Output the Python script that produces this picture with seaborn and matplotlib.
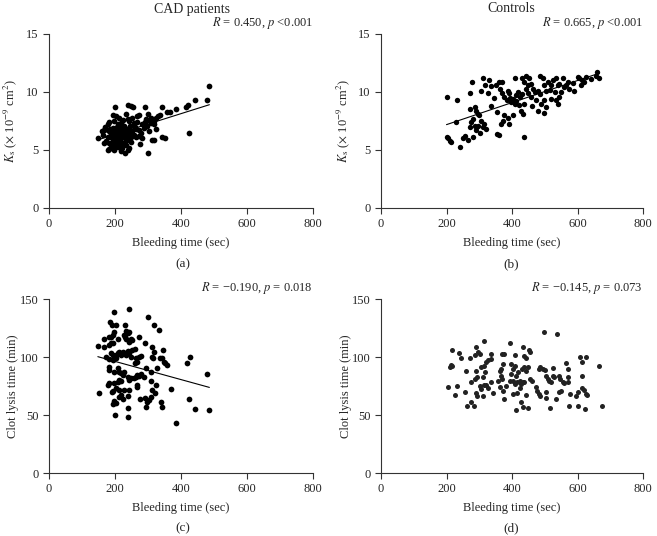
import numpy as np
import pandas as pd
import seaborn as sns
import matplotlib.pyplot as plt

# (a) CAD patients, bleeding time (sec) vs Ks
cad_bt_a = [486, 478, 441, 421, 416, 385, 368, 358, 343, 336, 331, 323, 318, 291, 255, 248, 238, 200,
            425, 299, 351, 343, 318, 313, 276, 148, 166, 168, 178, 183, 198, 208, 218, 230, 238, 243,
            193, 203, 213, 233, 238, 268, 273, 293, 303, 310,
            183, 198, 208, 218, 228, 243, 258, 268, 283, 298, 308, 318,
            173, 183, 193, 203, 213, 223, 233, 243, 253, 263, 273, 288, 303, 323,
            163, 178, 188, 193, 203, 213, 223, 233, 248, 258, 273, 283,
            173, 183, 193, 203, 213, 223, 233, 248,
            195, 205, 210, 215, 220, 200, 190, 185, 225, 230, 235, 240, 205, 215, 225, 250, 260, 280,
            290, 300, 250, 265, 180, 170, 160,
            195, 208, 218, 228, 198, 212, 222, 187, 238, 245]
cad_ks = [10.5, 9.3, 9.3, 8.9, 8.7, 8.5, 8.3, 8.3, 8.7, 8.0, 7.9, 7.8, 7.5, 8.7, 8.7, 8.8, 8.9, 8.7,
          6.5, 4.7, 6.0, 6.1, 5.9, 5.9, 5.5, 6.0, 6.7, 5.6, 5.0, 5.1, 5.0, 5.3, 4.9, 4.7, 5.0, 5.2,
          8.0, 7.9, 7.8, 8.1, 7.7, 7.9, 8.0, 7.7, 7.6, 7.8,
          7.4, 7.5, 7.2, 7.3, 7.1, 7.5, 7.3, 7.4, 7.2, 7.1, 7.3, 7.2,
          6.8, 6.6, 6.9, 6.7, 6.6, 6.8, 6.7, 6.9, 6.6, 6.8, 6.7, 6.9, 6.6, 6.8,
          6.3, 6.1, 6.4, 6.2, 6.0, 6.3, 6.2, 6.4, 6.1, 6.3, 6.2, 6.0,
          5.8, 5.6, 5.7, 5.5, 5.8, 5.6, 5.4, 5.7,
          6.5, 6.4, 6.1, 5.9, 6.6, 5.9, 6.0, 6.8, 6.5, 6.0, 5.9, 6.5, 7.0, 7.0, 7.6, 7.8, 7.0, 6.5,
          7.4, 8.1, 6.4, 6.1, 7.2, 7.0, 6.6,
          6.2, 6.6, 6.2, 6.9, 5.3, 5.5, 5.2, 5.4, 6.3, 7.1]

# (b) Controls, bleeding time (sec) vs Ks
ctl_bt_b = [200, 233, 271, 278, 311, 318, 331, 336, 326, 306, 359, 369, 364, 369, 377, 387, 392, 385,
            398, 403, 408, 413, 418, 423, 408, 430, 443, 453, 438, 448, 443, 458, 469, 479, 486, 494,
            499, 504, 509, 519, 524, 534, 540, 545, 555, 560, 570, 575, 590, 600, 605, 615, 626, 661,
            666, 656,
            200, 205, 210, 215, 241, 251, 256, 266, 281, 271, 276, 281, 286, 291, 296, 301, 306, 311,
            316, 321, 286, 291, 296, 271, 299, 230, 355, 359, 367, 372, 377, 355, 387, 392, 403, 428,
            433, 438, 436, 458, 474, 489, 499, 497, 504, 519, 534, 540, 545,
            412, 420, 395, 430, 450, 465, 485, 515, 530, 550, 565, 585, 610, 620, 640, 345, 335, 350,
            460, 480]
ctl_ks = [9.6, 9.3, 9.9, 10.9, 11.2, 10.6, 11.0, 10.5, 9.9, 10.1, 10.9, 10.9, 10.3, 9.9, 9.6, 10.1, 9.9, 9.3,
          9.1, 9.4, 9.0, 9.7, 10.0, 9.6, 11.2, 11.2, 11.4, 11.2, 10.9, 10.6, 10.3, 10.7, 10.0, 10.1, 11.4, 11.2,
          10.6, 10.1, 10.9, 10.6, 11.0, 11.2, 10.6, 10.7, 11.2, 10.4, 10.9, 10.3, 10.1, 11.3, 11.2, 11.0, 11.3, 11.7,
          11.2, 11.4,
          6.1, 6.0, 5.8, 5.7, 5.3, 6.0, 6.2, 5.9, 6.1, 7.0, 7.4, 7.7, 7.1, 6.7, 7.1, 6.5, 7.5, 7.0,
          7.2, 6.8, 8.7, 8.4, 8.1, 8.5, 8.0, 7.4, 6.4, 6.3, 7.2, 7.5, 8.0, 8.3, 7.8, 7.2, 8.0, 8.4,
          8.1, 9.0, 6.1, 9.6, 9.3, 9.0, 9.3, 8.2, 8.7, 9.4, 9.3, 9.0, 9.6,
          9.2, 8.9, 9.5, 9.8, 9.9, 10.3, 9.8, 10.2, 10.0, 10.0, 10.6, 10.8, 10.6, 10.9, 11.1, 9.5, 8.8, 10.6,
          8.8, 8.4]

# (c) CAD patients, bleeding time (sec) vs clot lysis time (min)
cad_bt_c = [198, 243, 300, 318, 333, 185, 190, 203, 229, 233, 238, 228, 241, 198, 193, 188, 183, 166,
            148, 168, 183, 188, 193, 208, 230, 233, 248, 243, 253, 273, 291, 311, 318, 345, 335, 253,
            261, 238, 243, 248, 263, 273, 278, 268, 261, 188, 193, 198, 203, 208, 213, 218, 223, 228,
            233, 203, 193, 173, 181, 183, 181, 198, 343, 348, 353, 358, 313, 316, 418, 428, 478, 208,
            211, 218, 223, 228, 238, 243, 248, 258, 263, 268, 273, 278, 288, 293, 308, 328, 178, 183,
            198, 208, 213, 218, 203, 193, 191, 211, 218, 213, 223, 228, 243, 238, 268, 268, 308, 323,
            313, 320, 151, 198, 203, 195, 276, 291, 298, 303, 308, 293, 338, 343, 370, 423, 443, 486,
            201, 240, 238, 385]
cad_clt = [138.5, 141.4, 134.8, 127.6, 123.3, 130.5, 127.6, 127.6, 127.6, 122.7, 120.4, 119.0, 121.8,
           121.8, 119.0, 117.5, 117.0, 115.2, 109.5, 108.3, 110.3, 111.8, 112.4, 115.2, 117.5, 115.2,
           115.2, 113.2, 114.7, 117.5, 111.8, 108.3, 104.6, 106.0, 98.9, 106.0, 106.6, 105.5, 103.2,
           100.3, 98.9, 100.3, 100.9, 96.0, 95.1, 103.2, 101.7, 100.3, 101.7, 103.2, 104.6, 101.7,
           104.6, 103.7, 101.7, 98.9, 97.4, 100.3, 98.0, 91.7, 88.8, 87.4, 98.9, 96.0, 94.5, 93.1,
           100.3, 98.9, 95.1, 100.3, 85.3, 90.2, 87.4, 85.9, 84.5, 87.4, 83.0, 80.2, 81.6, 81.6, 83.0,
           84.5, 83.6, 85.3, 82.5, 90.2, 87.4, 90.2, 75.9, 77.3, 77.3, 78.7, 80.2, 79.6, 73.0, 71.0,
           70.1, 71.6, 67.2, 65.8, 63.5, 71.6, 71.6, 66.4, 75.9, 73.9, 79.6, 75.9, 71.6, 68.7, 69.3,
           62.4, 60.6, 59.5, 63.8, 64.4, 61.5, 62.9, 65.2, 57.2, 61.5, 56.6, 72.1, 64.1, 54.9, 54.3,
           50.0, 48.6, 55.7, 42.8]

# (d) Controls, bleeding time (sec) vs clot lysis time (min)
ctl_bt_d = [499, 537, 314, 393, 290, 218, 238, 243, 213, 217, 210, 205, 225, 232, 261, 256, 264, 276,
            283, 271, 286, 296, 301, 276, 286, 294, 291, 306, 314, 321, 327, 335, 337, 318, 311, 314,
            301, 291, 294, 311, 321, 327, 337, 342, 304, 369, 377, 372, 367, 362, 365, 357, 362, 372,
            375, 369, 382, 393, 396, 403, 408, 398, 403, 408, 416, 423, 428, 433, 438, 403, 416, 423,
            426, 413, 435, 448, 444, 410, 433, 438, 443, 453, 456, 430, 438, 443, 448, 456, 460, 413,
            418, 474, 477, 482, 487, 504, 504, 516, 534, 545, 550, 481, 487, 494, 502, 504, 509, 514,
            519, 524, 524, 529, 545, 548, 555, 560, 565, 572, 570, 572, 578, 594, 602, 614, 620, 625,
            628, 613, 608, 625, 614, 666, 674, 600, 573, 624]
ctl_clt = [121.8, 119.8, 113.8, 112.1, 108.9, 106.0, 103.2, 98.9, 93.1, 92.5, 91.7, 73.9, 67.2, 75.3,
           88.2, 70.1, 58.0, 60.9, 58.0, 98.9, 101.7, 104.0, 102.6, 78.2, 81.0, 83.0, 88.2, 91.1, 92.5,
           95.4, 97.4, 98.3, 102.6, 87.4, 82.5, 75.9, 74.7, 68.7, 66.1, 66.7, 75.9, 73.0, 78.2, 68.7,
           72.4, 102.6, 102.6, 94.0, 89.7, 88.2, 83.9, 79.6, 73.9, 71.0, 63.8, 81.0, 75.3, 79.6, 85.3,
           89.7, 92.5, 94.0, 79.6, 76.7, 78.2, 79.6, 76.7, 78.2, 78.7, 68.1, 68.7, 73.0, 61.5, 54.3,
           57.2, 55.7, 67.2, 101.7, 108.9, 101.1, 98.9, 106.3, 104.0, 89.7, 91.1, 88.2, 91.1, 81.0,
           79.6, 83.9, 86.8, 73.9, 71.0, 68.1, 66.7, 69.5, 64.4, 56.3, 63.8, 69.5, 71.0, 89.7, 91.1,
           89.7, 89.1, 83.9, 81.0, 79.6, 78.2, 83.3, 90.2, 82.5, 83.9, 81.0, 78.2, 77.6, 94.5, 89.7,
           82.5, 78.2, 68.4, 66.7, 70.1, 73.0, 71.8, 68.1, 67.2, 83.3, 99.7, 99.7, 95.4, 92.5, 58.0,
           58.0, 57.5, 55.2]

x_ticks = [0, 200, 400, 600, 800]
ks_ticks = [0, 5, 10, 15]
clt_ticks = [0, 50, 100, 150]

ks_label = r"$K_\mathrm{s}$ ($\times$ 10$^{-9}$ cm$^{2}$)"
clt_label = "Clot lysis time (min)"
x_label = "Bleeding time (sec)"


def draw_panel(ax, x, y, yticks, ylabel, stat_text, dot_color, dot_size, fit_line):
    df = pd.DataFrame({"x": x, "y": y})
    sns.scatterplot(data=df, x="x", y="y", ax=ax, color=dot_color, s=dot_size,
                    linewidth=0, clip_on=False)
    if fit_line:
        sns.regplot(data=df, x="x", y="y", ax=ax, scatter=False, ci=None,
                    color="black", line_kws={"lw": 0.8})
    ax.set_xlim(0, 800)
    ax.set_ylim(yticks[0], yticks[-1])
    ax.set_xticks(x_ticks)
    ax.set_yticks(yticks)
    ax.set_xlabel(x_label, fontsize=9)
    ax.set_ylabel(ylabel, fontsize=9)
    ax.yaxis.set_label_coords(-0.112, 0.5)
    ax.xaxis.labelpad = 5
    ax.tick_params(direction="out", length=4, width=0.8, labelsize=9, color="#333333")
    for side in ["left", "bottom"]:
        ax.spines[side].set_color("#333333")
        ax.spines[side].set_linewidth(0.8)
    sns.despine(ax=ax)
    ax.text(1.0, 1.063, stat_text, transform=ax.transAxes, ha="right", va="center", fontsize=9)


def main():
    sns.set_style("ticks")
    plt.rcParams["font.family"] = ["Liberation Serif", "DejaVu Serif"]
    plt.rcParams["mathtext.fontset"] = "stix"

    fig = plt.figure(figsize=(6.57, 5.36), dpi=100)
    ax_a = fig.add_axes([49 / 657, 1 - 208 / 536, 264 / 657, 174 / 536])
    ax_b = fig.add_axes([381 / 657, 1 - 208 / 536, 262 / 657, 174 / 536])
    ax_c = fig.add_axes([49 / 657, 1 - 473 / 536, 264 / 657, 174 / 536])
    ax_d = fig.add_axes([381 / 657, 1 - 473 / 536, 262 / 657, 174 / 536])

    draw_panel(ax_a, cad_bt_a, cad_ks, ks_ticks, ks_label,
               r"$R$ = 0.450, $p$ <0.001", "black", 17, True)
    draw_panel(ax_b, ctl_bt_b, ctl_ks, ks_ticks, ks_label,
               r"$R$ = 0.665, $p$ <0.001", "black", 15, True)
    draw_panel(ax_c, cad_bt_c, cad_clt, clt_ticks, clt_label,
               r"$R$ = −0.190, $p$ = 0.018", "black", 17, True)
    draw_panel(ax_d, ctl_bt_d, ctl_clt, clt_ticks, clt_label,
               r"$R$ = −0.145, $p$ = 0.073", "#222222", 13, False)

    fig.text(192 / 657, 1 - 9 / 536, "CAD patients", ha="center", va="center", fontsize=10)
    fig.text(511 / 657, 1 - 9 / 536, "Controls", ha="center", va="center", fontsize=10)
    for lab, xc, yc in [("(a)", 183, 264), ("(b)", 511, 264), ("(c)", 183, 528), ("(d)", 511, 528)]:
        fig.text(xc / 657, 1 - yc / 536, lab, ha="center", va="center", fontsize=9.5)

    fig.savefig("out.png", dpi=100)


if __name__ == '__main__':
    main()
